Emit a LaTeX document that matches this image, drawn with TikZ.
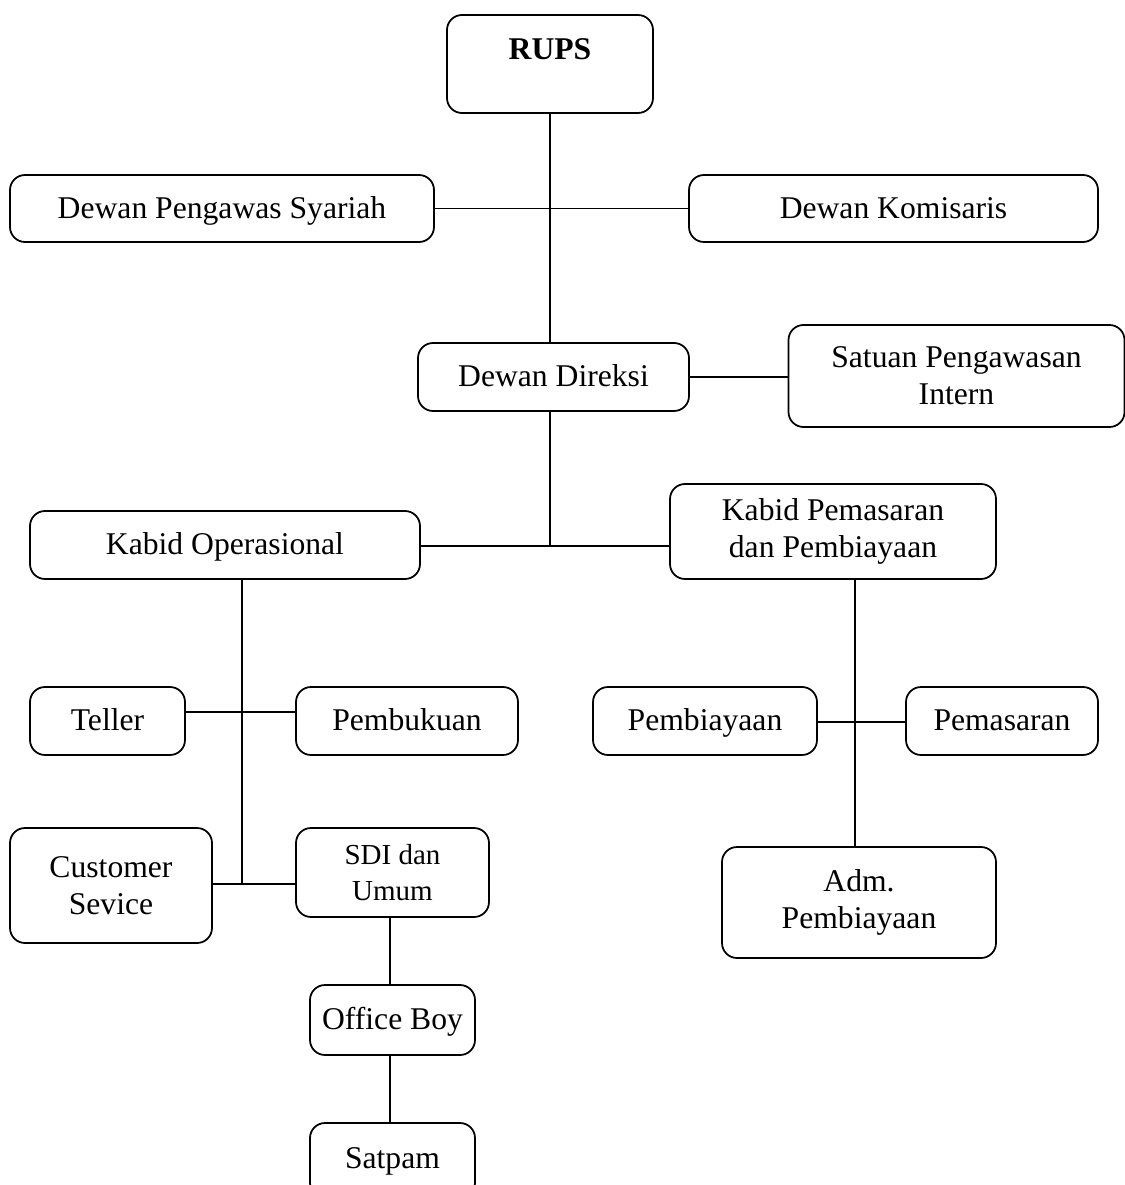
\documentclass[tikz,border=0pt]{standalone}
\usepackage{fontspec}
\setmainfont{Liberation Serif}
\begin{document}
\begin{tikzpicture}[
    unit/.style={rectangle, draw, line width=1pt, rounded corners=0.3cm, align=center, inner sep=0pt, font=\fontsize{18}{21}\selectfont},
    line1/.style={text height=0.5cm, text depth=0.12cm},
    small/.style={font=\fontsize{16.5}{20}\selectfont},
    link/.style={line width=0.8pt}
  ]
    \useasboundingbox (0,0) rectangle (22.5,-23.7);

    % Top
    \node[unit, minimum width=4.12cm, text height=0.9cm, text depth=1.06cm, font=\fontsize{18}{21}\selectfont\bfseries] (rups) at (11,-1.28) {RUPS};
    \node[unit, line1, minimum width=8.48cm, minimum height=1.34cm] (dps) at (4.44,-4.17) {Dewan Pengawas Syariah};
    \node[unit, line1, minimum width=8.18cm, minimum height=1.34cm] (dk) at (17.87,-4.17) {Dewan Komisaris};
    \node[unit, line1, minimum width=5.42cm, minimum height=1.36cm] (dd) at (11.07,-7.54) {Dewan Direksi};
    \node[unit, minimum width=6.72cm, minimum height=2.04cm] (spi) at (19.13,-7.52) {Satuan Pengawasan\\Intern};

    % Kabid
    \node[unit, line1, minimum width=7.8cm, minimum height=1.36cm] (ko) at (4.5,-10.9) {Kabid Operasional};
    \node[unit, minimum width=6.52cm, minimum height=1.9cm] (kpp) at (16.66,-10.63) {Kabid Pemasaran\\dan Pembiayaan};

    % Operasional
    \node[unit, line1, minimum width=3.1cm, minimum height=1.36cm] (teller) at (2.15,-14.42) {Teller};
    \node[unit, line1, minimum width=4.44cm, minimum height=1.36cm] (pembukuan) at (8.14,-14.42) {Pembukuan};
    \node[unit, minimum width=4.04cm, minimum height=2.3cm] (cs) at (2.22,-17.71) {Customer\\Sevice};
    \node[unit, small, minimum width=3.86cm, minimum height=1.78cm] (sdi) at (7.85,-17.45) {SDI dan\\Umum};
    \node[unit, line1, minimum width=3.3cm, minimum height=1.4cm] (ob) at (7.85,-20.4) {Office Boy};
    \node[unit, minimum width=3.3cm, text height=0.9cm, text depth=0.6cm] (satpam) at (7.85,-23.21) {Satpam};

    % Pemasaran dan Pembiayaan
    \node[unit, line1, minimum width=4.48cm, minimum height=1.36cm] (pembiayaan) at (14.1,-14.42) {Pembiayaan};
    \node[unit, line1, minimum width=3.84cm, minimum height=1.36cm] (pemasaran) at (20.04,-14.42) {Pemasaran};
    \node[unit, minimum width=5.48cm, minimum height=2.22cm] (adm) at (17.18,-18.05) {Adm.\\Pembiayaan};

    % Junctions
    \coordinate (jk) at (11,-10.92);
    \coordinate (lt) at (4.84,-14.24);
    \coordinate (lb) at (4.84,-17.68);
    \coordinate (rt) at (17.1,-14.44);

    % Links
    \draw[link] (rups.south) -- (rups.south |- dd.north);
    \draw[link] (dps.east) -- (dk.west);
    \draw[link] (dd.east) -- (dd.east -| spi.west);
    \draw[link] (jk |- dd.south) -- (jk);
    \draw[link] (ko.east |- jk) -- (kpp.west |- jk);
    \draw[link] (lt |- ko.south) -- (lb);
    \draw[link] (teller.east |- lt) -- (pembukuan.west |- lt);
    \draw[link] (cs.east |- lb) -- (sdi.west |- lb);
    \draw[link] ([xshift=-0.05cm]sdi.south) -- ([xshift=-0.05cm]ob.north);
    \draw[link] ([xshift=-0.05cm]ob.south) -- ([xshift=-0.05cm]satpam.north);
    \draw[link] (rt |- kpp.south) -- (rt |- adm.north);
    \draw[link] (pembiayaan.east |- rt) -- (pemasaran.west |- rt);
\end{tikzpicture}
\end{document}
